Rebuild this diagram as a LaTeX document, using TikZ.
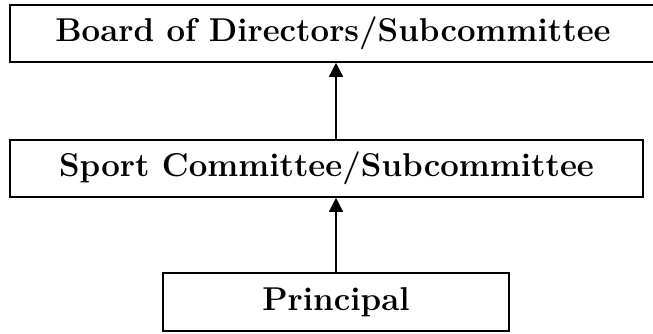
\documentclass[tikz,border=0pt]{standalone}
\usepackage{tikz}
\usetikzlibrary{arrows.meta,calc}

\begin{document}
\begin{tikzpicture}[x=1pt,y=1pt,>={Triangle[length=14pt,width=14pt]},
    level/.style={draw,line width=1.6pt,inner sep=0pt,font=\fontsize{33}{36}\bfseries\selectfont}]
      \useasboundingbox (0,0) rectangle (653,333);
      \node[level,minimum width=646,minimum height=57] (board) at (333,299.5) {Board of Directors/Subcommittee};
      \node[level,minimum width=633,minimum height=57] (sport) at (326.5,164.5) {Sport Committee/Subcommittee};
      \node[level,minimum width=346,minimum height=58] (principal) at (336,31) {Principal};
      \draw[->,line width=1.5pt] (principal.north) -- (principal.north |- sport.south);
      \draw[->,line width=1.5pt] (principal.north |- sport.north) -- (principal.north |- board.south);
\end{tikzpicture}
\end{document}
